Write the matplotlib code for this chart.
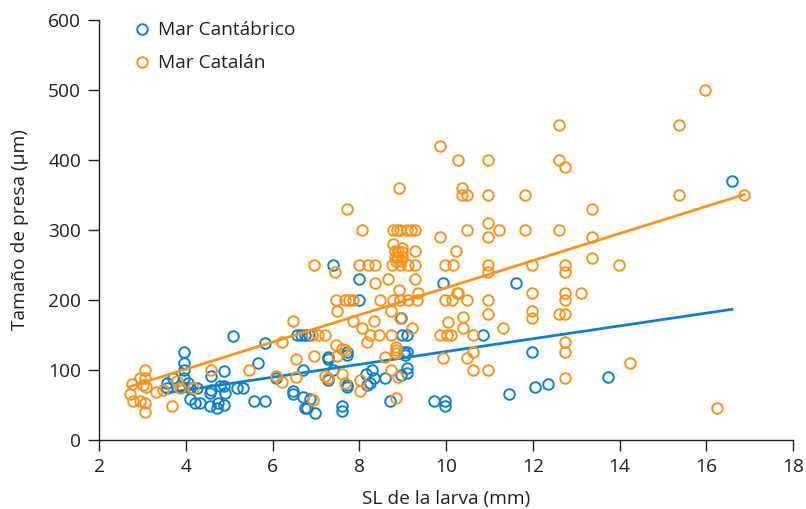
import numpy as np
import matplotlib
matplotlib.use("Agg")
import matplotlib.pyplot as plt

plt.rcParams['font.family'] = ['Open Sans', 'DejaVu Sans']

# Talla estándar (SL, mm) y tamaño de presa (µm) por larva
sl_cantabrico = [3.56, 3.56, 3.71, 3.95, 3.95, 3.95, 3.95, 3.90, 4.05, 4.09, 4.25, 4.09, 4.21,
                 4.32, 4.59, 4.59, 4.55, 4.78, 4.88, 4.90, 4.55, 4.71, 4.87, 4.75, 4.87, 5.17,
                 5.32, 5.58, 5.08, 5.67, 5.82, 5.82, 6.08, 6.47, 6.48, 6.71, 6.70, 6.86, 6.75,
                 6.80, 6.98, 6.56, 6.65, 6.74, 6.84, 7.27, 7.27, 7.27, 7.40, 7.40, 7.60, 7.60,
                 7.72, 7.72, 7.72, 7.72, 7.98, 7.98, 8.16, 8.29, 8.33, 8.25, 8.17, 8.59, 8.71,
                 8.96, 8.96, 8.98, 9.10, 9.02, 9.10, 9.05, 9.10, 9.10, 9.73, 9.97, 9.97, 9.93,
                 10.84, 11.46, 11.61, 11.97, 12.06, 12.36, 13.74, 16.59]
presa_cantabrico = [81, 74, 89, 125, 110, 100, 88, 76, 81, 74, 74, 58, 53,
                    53, 91, 72, 67, 77, 77, 67, 48, 46, 50, 53, 99, 74,
                    74, 55, 149, 110, 139, 55, 88, 70, 66, 100, 62, 59, 46,
                    46, 38, 150, 150, 150, 150, 119, 115, 85, 100, 250, 48, 41,
                    125, 122, 78, 75, 230, 200, 94, 100, 88, 81, 78, 88, 55,
                    175, 93, 150, 150, 125, 125, 121, 103, 96, 55, 55, 48, 225,
                    150, 65, 225, 125, 75, 80, 90, 370]

sl_catalan = [15.96, 15.37, 12.60, 9.86, 10.28, 10.97, 12.60, 12.74, 8.92, 10.37, 10.37, 10.48,
              10.97, 11.82, 15.37, 16.87, 7.72, 13.36,
              8.07, 8.78, 8.86, 8.94, 9.09, 9.20, 9.28, 10.48, 11.22, 11.82, 12.60,
              9.86, 10.97, 13.36, 10.97, 8.78, 8.98, 9.28, 10.23,
              8.82, 8.90, 8.98, 8.82, 8.90, 8.98, 8.85, 8.95,
              6.96, 7.98, 8.21, 8.36, 8.75, 8.94, 9.11, 9.28, 9.97, 10.17, 10.97, 11.98, 12.74, 13.99,
              7.44, 10.97, 12.74, 13.36,
              8.36, 8.67, 9.28, 8.92, 9.36, 10.25, 10.28, 11.97, 12.74, 13.11,
              7.46, 7.67, 7.76, 7.85, 8.47, 8.78, 8.94, 9.11, 9.33, 9.97, 10.14, 10.48, 10.97, 12.74,
              7.49, 8.73, 10.97, 11.97, 11.97, 12.60, 12.74,
              8.94, 10.38, 10.38, 6.47, 7.85, 8.34, 10.04, 8.07, 9.21, 11.30,
              8.17, 12.74, 6.21, 7.46, 7.60, 7.67,
              6.91, 7.05, 7.20, 8.24, 8.45, 8.73, 9.86, 10.02, 10.11, 10.63,
              8.85, 8.85, 8.85,
              6.55, 6.96, 7.49, 8.60, 9.93, 10.48, 10.63, 12.74,
              3.05, 4.59, 5.45, 8.73, 10.63, 10.97,
              14.24, 12.74, 16.24,
              6.07, 6.21, 6.55, 7.20, 7.27, 7.60, 8.02, 8.02, 7.67, 8.90, 8.85, 6.93,
              2.94, 3.05, 3.02, 2.75, 2.71, 2.79, 2.94, 3.05, 3.05, 3.69, 3.32, 3.48, 3.79,
              3.86, 4.17, 3.09]
presa_catalan = [500, 450, 450, 420, 400, 400, 400, 390, 360, 360, 350, 350,
                 350, 350, 350, 350, 330, 330,
                 300, 300, 300, 300, 300, 300, 300, 300, 300, 300, 300,
                 290, 290, 290, 310, 280, 275, 270, 270,
                 270, 270, 268, 262, 262, 262, 256, 256,
                 250, 250, 250, 250, 250, 250, 250, 250, 250, 250, 250, 250, 250, 250,
                 240, 240, 240, 260,
                 225, 230, 230, 215, 210, 210, 210, 210, 210, 210,
                 200, 200, 200, 200, 200, 200, 200, 200, 200, 200, 200, 200, 200, 200,
                 185, 185, 180, 185, 175, 180, 180,
                 175, 176, 160, 170, 170, 170, 169, 160, 160, 160,
                 140, 140, 140, 135, 130, 128,
                 150, 150, 150, 150, 150, 150, 150, 150, 150, 150,
                 133, 128, 124,
                 116, 120, 120, 118, 117, 117, 125, 125,
                 100, 100, 100, 100, 100, 100,
                 110, 88, 45,
                 91, 83, 90, 91, 88, 94, 86, 70, 81, 90, 60, 57,
                 88, 88, 79, 80, 66, 55, 55, 53, 40, 49, 69, 72, 84,
                 74, 74, 75]

azul = '#1080cc'
naranja = '#f7941d'
texto = '#231f20'

fig = plt.figure(figsize=(8.06, 5.09), dpi=100)
ax = fig.add_axes([0.123, 0.1356, 0.861, 0.825])

series = [
    (sl_cantabrico, presa_cantabrico, azul, 'Mar Cantábrico'),
    (sl_catalan, presa_catalan, naranja, 'Mar Catalán'),
]
for sl, presa, color, nombre in series:
    sl = np.array(sl)
    presa = np.array(presa)
    ax.plot(sl, presa, 'o', linestyle='none', markersize=7.6, markerfacecolor='none',
            markeredgecolor=color, markeredgewidth=1.4, label=nombre)
    # recta de regresión lineal sobre el rango de tallas
    pendiente, ordenada = np.polyfit(sl, presa, 1)
    xr = np.array([sl.min(), sl.max()])
    ax.plot(xr, pendiente * xr + ordenada, '-', color=color, linewidth=2)

ax.set_xlim(2, 18)
ax.set_ylim(0, 600)
ax.set_xticks(np.arange(2, 19, 2))
ax.set_yticks(np.arange(0, 601, 100))
for lado in ['top', 'right']:
    ax.spines[lado].set_visible(False)
for lado in ['left', 'bottom']:
    ax.spines[lado].set_linewidth(1.0)
    ax.spines[lado].set_color(texto)
ax.tick_params(axis='both', direction='out', length=8, width=1.0, color=texto,
               labelsize=13.8, labelcolor=texto, pad=5)

ax.set_xlabel('SL de la larva (mm)', fontsize=13.8, color=texto, labelpad=10)
ax.set_ylabel('Tamaño de presa (µm)', fontsize=13.8, color=texto, labelpad=14)

leg = ax.legend(loc='upper left', bbox_to_anchor=(0.02, 1.038), frameon=False,
                fontsize=13.8, handletextpad=0.25, handlelength=1.2, labelspacing=0.78,
                labelcolor=texto)

fig.savefig('out.png', dpi=100)
